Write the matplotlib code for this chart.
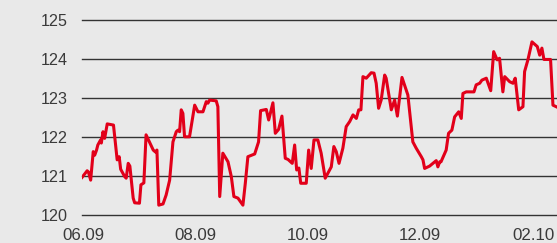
import matplotlib
matplotlib.use("Agg")
import matplotlib.pyplot as plt

# days since 2009-06-01 and index values
days = [-0.5, 2.3, 3.0, 4.2, 5.6, 6.4, 7.4, 8.1, 9.6, 10.0, 10.9, 11.8, 13.2, 16.6, 18.6, 19.7,
        20.5, 22.7, 23.5, 24.6, 25.5, 27.3, 28.1, 30.7, 31.5, 33.1, 34.3, 38.2, 39.4, 40.2,
        41.2, 43.5, 45.2, 47.1, 48.9, 50.7, 51.6, 52.5, 53.4, 54.3, 55.2, 57.9, 60.7, 62.5,
        65.2, 67.0, 67.9, 68.8, 72.4, 73.3, 74.3, 76.0, 78.8, 80.6, 82.0, 84.2, 86.9, 88.2,
        89.6, 93.3, 95.4, 96.5, 99.6, 100.9, 103.2, 104.5, 106.3, 108.1, 109.9, 111.4, 113.7,
        115.0, 116.1, 117.3, 118.3, 121.3, 122.6, 124.0, 125.5, 127.6, 129.4, 131.6, 134.9,
        136.3, 137.6, 139.1, 141.2, 143.0, 144.9, 146.7, 148.5, 149.8, 151.0, 152.1, 153.9,
        156.6, 158.1, 159.3, 160.6, 162.0, 163.9, 164.7, 167.5, 169.3, 170.8, 173.3, 176.5,
        179.2, 181.0, 183.8, 184.7, 185.6, 188.3, 191.9, 192.8, 193.8, 194.5, 197.3, 198.6,
        200.4, 201.9, 204.1, 205.5, 206.4, 208.2, 212.4, 213.6, 215.5, 216.7, 219.1, 221.5,
        223.1, 225.0, 226.3, 228.1, 229.1, 231.8, 233.6, 234.8, 236.7, 239.0, 239.9, 241.7,
        243.9, 246.8, 248.1, 249.3, 250.4, 254.0, 255.3, 257.5]
values = [120.97, 121.14, 121.11, 120.90, 121.63, 121.54, 121.67, 121.80, 121.93, 121.85, 122.14,
          121.97, 122.34, 122.31, 121.42, 121.50, 121.18, 120.99, 120.95, 121.33, 121.26, 120.44,
          120.32, 120.31, 120.78, 120.83, 122.06, 121.67, 121.62, 121.67, 120.26, 120.29, 120.52,
          120.90, 121.88, 122.14, 122.18, 122.14, 122.70, 122.61, 122.01, 122.01, 122.82, 122.65,
          122.65, 122.91, 122.87, 122.95, 122.93, 122.78, 120.48, 121.59, 121.37, 120.99, 120.48,
          120.44, 120.26, 120.82, 121.50, 121.57, 121.88, 122.68, 122.71, 122.44, 122.88, 122.10,
          122.20, 122.54, 121.46, 121.43, 121.33, 121.80, 121.16, 121.21, 120.82, 120.82, 121.67,
          121.20, 121.93, 121.93, 121.59, 120.95, 121.24, 121.76, 121.63, 121.33, 121.72, 122.27,
          122.40, 122.57, 122.48, 122.70, 122.70, 123.55, 123.51, 123.65, 123.64, 123.38, 122.74,
          122.95, 123.59, 123.51, 122.70, 122.95, 122.54, 123.53, 123.08, 121.88, 121.72, 121.50,
          121.42, 121.20, 121.26, 121.40, 121.24, 121.37, 121.37, 121.67, 122.10, 122.18, 122.52,
          122.65, 122.48, 123.12, 123.16, 123.16, 123.34, 123.38, 123.46, 123.51, 123.19, 124.19,
          123.98, 124.02, 123.16, 123.55, 123.42, 123.38, 123.51, 122.70, 122.78, 123.68, 123.98,
          124.44, 124.32, 124.10, 124.28, 123.99, 123.99, 122.82, 122.77]

tick_pos = [0, 61, 122, 183, 245]
tick_labels = ["06.09", "08.09", "10.09", "12.09", "02.10"]
y_ticks = [120, 121, 122, 123, 124, 125]

bg = "#e9e9e9"
fig = plt.figure(figsize=(5.57, 2.43), dpi=100, facecolor=bg)
W, H = 557, 243
ax = fig.add_axes([82 / W, (H - 215.3) / H, (557 - 82) / W, (215.3 - 20) / H])
ax.set_facecolor(bg)

for y in y_ticks:
    ax.axhline(y, color="#333333", lw=1.0, zorder=1, clip_on=False)

ax.plot(days, values, color="#e2001a", lw=2.2, zorder=3, solid_joinstyle="round")

ax.set_xlim(-0.5, 257.5)
ax.set_ylim(120, 125)
for s in ax.spines.values():
    s.set_visible(False)
ax.set_yticks(y_ticks)
ax.set_yticklabels([str(v) for v in y_ticks])
ax.set_xticks(tick_pos)
ax.set_xticklabels(tick_labels)
ax.tick_params(axis="both", length=0, labelcolor="#3a3a3a")
ax.tick_params(axis="y", pad=10, labelsize=11.6)
ax.tick_params(axis="x", pad=9.3, labelsize=12.2)
for lab in ax.get_xticklabels() + ax.get_yticklabels():
    lab.set_fontfamily("Liberation Sans")

fig.savefig("out.png", dpi=100, facecolor=bg)
